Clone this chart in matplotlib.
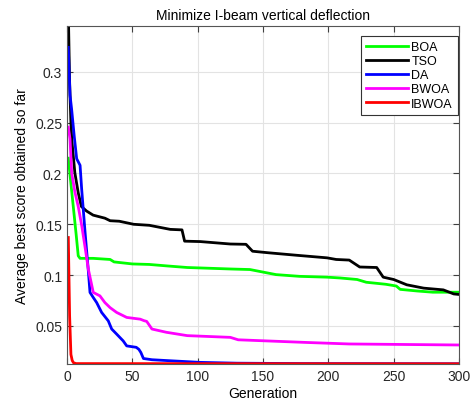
import numpy as np
import matplotlib.pyplot as plt

plt.rcParams['font.family'] = ['Liberation Sans', 'DejaVu Sans']

# Convergence curves (generation, average best score)
boa_gen = [1, 3, 5, 7, 8.6, 10, 20, 33, 36, 50, 63, 77, 92, 126, 140, 148, 160, 178, 199, 209,
           222, 229, 244, 252, 255, 268, 280, 300]
boa_val = [0.215, 0.19, 0.165, 0.14, 0.119, 0.1165, 0.1165, 0.1154, 0.113, 0.111, 0.1105, 0.109,
           0.1075, 0.106, 0.1055, 0.1035, 0.1005, 0.0988, 0.098, 0.0972, 0.0957, 0.093, 0.091,
           0.0893, 0.086, 0.0844, 0.0832, 0.0832]

tso_gen = [1, 2, 3, 3.6, 6, 8.6, 11, 15, 20, 29, 33, 40, 51, 63, 79, 88, 90, 102, 125, 137,
           142, 154, 176, 199, 206, 216, 224, 237, 242, 250, 260, 273, 288, 296, 300]
tso_val = [0.36, 0.29, 0.25, 0.234, 0.2007, 0.181, 0.1675, 0.163, 0.159, 0.156, 0.1535, 0.153,
           0.15, 0.149, 0.145, 0.1445, 0.1334, 0.133, 0.1306, 0.1303, 0.1235, 0.122, 0.1195,
           0.117, 0.1154, 0.1148, 0.108, 0.1075, 0.098, 0.0957, 0.0905, 0.0872, 0.0855,
           0.0815, 0.081]

da_gen = [1, 2.3, 3.5, 5.5, 7.4, 10, 11.2, 13.8, 16.3, 17.6, 20.1, 22.7, 26.5, 31.6, 34.2,
          38, 43, 45.7, 53, 55, 56.5, 58.5, 65, 76, 102, 130, 180, 300]
da_val = [0.324, 0.277, 0.2636, 0.237, 0.2145, 0.208, 0.185, 0.1425, 0.1045, 0.083,
          0.078, 0.073, 0.0633, 0.055, 0.047, 0.042, 0.0353, 0.0304, 0.029, 0.027, 0.024,
          0.018, 0.0168, 0.016, 0.0142, 0.0134, 0.013, 0.0128]

bwoa_gen = [1, 2.3, 3.6, 6, 8.6, 11.3, 14, 16.3, 20.1, 25.2, 29, 33, 38, 45.7, 56, 59, 61, 65,
            76, 92, 125, 131, 183, 216, 300]
bwoa_val = [0.2455, 0.234, 0.2, 0.182, 0.1675, 0.1485, 0.126, 0.106, 0.083, 0.0796, 0.073,
            0.068, 0.0633, 0.0584, 0.0567, 0.0552, 0.0545, 0.047, 0.0438, 0.0405, 0.0388,
            0.0364, 0.0338, 0.0323, 0.0313]

ibwoa_gen = [1, 2, 3, 4, 5, 7, 300]
ibwoa_val = [0.137, 0.06, 0.022, 0.016, 0.0138, 0.013, 0.0128]

series = [
    ('BOA', boa_gen, boa_val, (0, 1, 0)),
    ('TSO', tso_gen, tso_val, 'black'),
    ('DA', da_gen, da_val, 'blue'),
    ('BWOA', bwoa_gen, bwoa_val, 'magenta'),
    ('IBWOA', ibwoa_gen, ibwoa_val, 'red'),
]

fig = plt.figure(figsize=(4.71, 4.02), dpi=100)
ax = fig.add_axes([67 / 471, 1 - 365 / 402, 392 / 471, 338 / 402])

for name, g, v, c in series:
    ax.plot(g, v, color=c, linewidth=2, label=name)

ax.set_xlim(0, 300)
ax.set_ylim(0.0126, 0.345)
ax.set_xticks([0, 50, 100, 150, 200, 250, 300])
ax.set_yticks([0.05, 0.1, 0.15, 0.2, 0.25, 0.3])
ax.set_yticklabels(['0.05', '0.1', '0.15', '0.2', '0.25', '0.3'])
ax.grid(True, color='#e3e3e3', linewidth=0.8)
ax.set_axisbelow(True)
ax.tick_params(direction='in', top=True, right=True, labelsize=10, length=4,
               color='#404040', colors='#262626')
for s in ax.spines.values():
    s.set_color('#555555')
    s.set_linewidth(0.8)

ax.set_title('Minimize I-beam vertical deflection', fontsize=10, pad=5)
ax.set_xlabel('Generation', fontsize=10, labelpad=2)
ax.set_ylabel('Average best score obtained so far', fontsize=10, labelpad=4)

leg = ax.legend(loc='upper right', bbox_to_anchor=(458 / 471, 1 - 37 / 402),
                bbox_transform=fig.transFigure, borderaxespad=0, fontsize=9,
                handlelength=3.3, handletextpad=0.3, labelspacing=0.17,
                fancybox=False, framealpha=1, borderpad=0.4)
leg.get_frame().set_edgecolor('#333333')
leg.get_frame().set_linewidth(0.8)

fig.savefig('out.png', dpi=100)
